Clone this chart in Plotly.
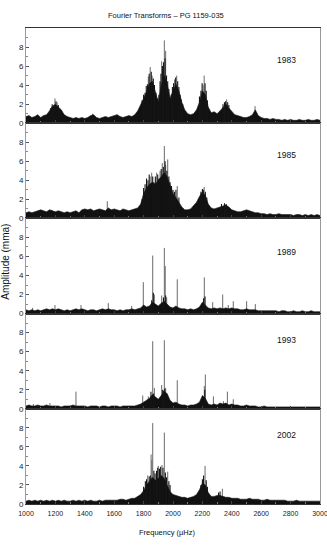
import plotly.graph_objects as go
from plotly.subplots import make_subplots

# frequency grid of the envelope values (microhertz)
FREQ = list(range(1000, 3001, 20))

YEARS = ["1983", "1985", "1989", "1993", "2002"]

# envelope of the dense part of each transform, one value per 20 uHz
ENV_1983 = [0.7, 0.8, 0.6, 0.7, 0.9, 0.6, 0.8, 0.9, 1.3, 1.8,
            2.0, 1.7, 1.4, 0.9, 0.7, 0.6, 0.5, 0.6, 0.5, 0.6,
            0.5, 0.6, 0.8, 0.9, 0.6, 0.5, 0.6, 0.7, 0.6, 0.7,
            0.8, 0.9, 0.7, 0.6, 0.7, 0.8, 0.7, 0.9, 1.3, 1.9,
            2.6, 3.3, 4.2, 4.4, 3.2, 2.2, 4.0, 5.0, 4.2, 2.6,
            3.4, 4.1, 3.4, 2.2, 1.4, 1.0, 0.9, 1.0, 1.4, 2.2,
            3.4, 3.0, 1.7, 1.1, 1.2, 1.0, 1.3, 1.7, 2.0, 1.6,
            1.3, 0.9, 0.8, 0.7, 0.6, 0.6, 0.7, 0.9, 1.4, 0.8,
            0.6, 0.5, 0.5, 0.4, 0.5, 0.4, 0.4, 0.3, 0.4, 0.3,
            0.4, 0.3, 0.3, 0.4, 0.3, 0.3, 0.4, 0.3, 0.3, 0.4,
            0.3]
ENV_1985 = [0.6, 0.7, 0.6, 0.7, 0.8, 0.9, 0.8, 0.7, 0.9, 0.8,
            0.7, 0.8, 0.7, 0.6, 0.7, 0.6, 0.7, 0.8, 0.6, 0.9,
            1.0, 0.9, 1.0, 0.8, 0.9, 1.0, 0.9, 0.8, 1.1, 0.9,
            1.0, 0.9, 0.8, 1.0, 0.9, 0.8, 0.9, 1.0, 1.1, 1.5,
            2.6, 3.2, 3.6, 3.8, 3.6, 4.0, 4.4, 4.8, 4.4, 3.4,
            2.6, 2.2, 1.7, 1.2, 0.9, 0.9, 1.0, 1.3, 1.7, 2.3,
            2.8, 2.4, 1.5, 1.1, 1.0, 1.1, 1.2, 1.3, 1.4, 1.2,
            0.9, 0.8, 0.7, 0.7, 0.8, 0.9, 0.8, 0.7, 0.6, 0.6,
            0.5, 0.5, 0.4, 0.5, 0.4, 0.4, 0.5, 0.4, 0.4, 0.4,
            0.4, 0.3, 0.4, 0.4, 0.3, 0.4, 0.3, 0.4, 0.3, 0.4,
            0.3]
ENV_1989 = [0.4, 0.3, 0.4, 0.3, 0.4, 0.3, 0.4, 0.5, 0.4, 0.5,
            0.4, 0.5, 0.4, 0.3, 0.4, 0.3, 0.4, 0.5, 0.4, 0.5,
            0.4, 0.3, 0.4, 0.4, 0.3, 0.4, 0.5, 0.4, 0.5, 0.4,
            0.4, 0.3, 0.4, 0.3, 0.4, 0.4, 0.5, 0.4, 0.5, 0.6,
            0.9, 0.7, 0.8, 1.2, 1.0, 0.8, 1.1, 1.3, 1.0, 0.7,
            0.6, 0.8, 0.6, 0.5, 0.5, 0.4, 0.5, 0.4, 0.5, 0.7,
            1.2, 0.9, 0.6, 0.5, 0.6, 0.5, 0.6, 0.5, 0.6, 0.5,
            0.6, 0.5, 0.5, 0.4, 0.4, 0.5, 0.4, 0.4, 0.4, 0.3,
            0.3, 0.3, 0.3, 0.3, 0.3, 0.3, 0.2, 0.3, 0.3, 0.2,
            0.2, 0.3, 0.2, 0.2, 0.3, 0.2, 0.2, 0.3, 0.2, 0.2,
            0.2]
ENV_1993 = [0.3, 0.4, 0.3, 0.3, 0.4, 0.3, 0.3, 0.4, 0.3, 0.3,
            0.3, 0.3, 0.2, 0.3, 0.3, 0.3, 0.4, 0.3, 0.3, 0.3,
            0.3, 0.2, 0.3, 0.3, 0.3, 0.2, 0.3, 0.3, 0.2, 0.3,
            0.3, 0.3, 0.2, 0.3, 0.3, 0.3, 0.3, 0.3, 0.4, 0.5,
            0.7, 0.9, 1.1, 1.5, 1.2, 1.0, 1.4, 1.8, 1.6, 0.9,
            0.6, 0.7, 0.5, 0.4, 0.4, 0.3, 0.4, 0.4, 0.5, 0.7,
            1.4, 1.1, 0.5, 0.4, 0.5, 0.4, 0.6, 0.5, 0.6, 0.4,
            0.5, 0.4, 0.4, 0.3, 0.3, 0.4, 0.3, 0.3, 0.3, 0.2,
            0.2, 0.3, 0.2, 0.2, 0.2, 0.2, 0.2, 0.2, 0.2, 0.2,
            0.2, 0.2, 0.2, 0.2, 0.2, 0.2, 0.2, 0.2, 0.2, 0.2,
            0.2]
ENV_2002 = [0.3, 0.4, 0.3, 0.4, 0.3, 0.4, 0.3, 0.4, 0.3, 0.4,
            0.3, 0.4, 0.3, 0.4, 0.3, 0.3, 0.4, 0.3, 0.4, 0.3,
            0.4, 0.3, 0.4, 0.3, 0.3, 0.4, 0.3, 0.4, 0.4, 0.4,
            0.4, 0.4, 0.5, 0.5, 0.4, 0.5, 0.6, 0.6, 0.8, 1.0,
            1.4, 2.0, 2.4, 2.8, 2.5, 2.7, 3.0, 2.7, 2.0, 1.3,
            1.0, 0.9, 0.8, 0.7, 0.7, 0.6, 0.7, 0.8, 1.0, 1.5,
            2.2, 2.0, 1.2, 0.8, 0.8, 0.9, 0.9, 0.8, 0.7, 0.7,
            0.6, 0.6, 0.6, 0.5, 0.5, 0.5, 0.6, 0.5, 0.5, 0.5,
            0.4, 0.4, 0.5, 0.4, 0.4, 0.4, 0.4, 0.4, 0.4, 0.3,
            0.3, 0.3, 0.4, 0.3, 0.3, 0.3, 0.3, 0.3, 0.3, 0.3,
            0.3]

# the many dark spikes that make up the body of each group of modes
DENSE_F_1983 = [1168, 1178, 1188, 1204, 1220, 1230, 1240,
                1790, 1800, 1810, 1818, 1826, 1838, 1852, 1866, 1874, 1884,
                1894, 1904, 1912, 1918, 1928, 1936, 1946, 1956, 1964, 1972,
                1988, 1996, 2004, 2018, 2032, 2040, 2048, 2056, 2066,
                2180, 2190, 2198, 2218, 2226, 2234,
                2340, 2350, 2358, 2372, 2380]
DENSE_A_1983 = [1.6, 2.0, 1.8, 2.3, 1.9, 1.5, 1.3,
                2.4, 3.0, 3.2, 3.9, 4.1, 5.2, 5.4, 4.7, 4.0, 3.2,
                2.6, 3.0, 4.4, 5.2, 6.0, 6.4, 6.8, 5.0, 4.4, 3.6,
                3.0, 3.8, 4.2, 4.8, 4.4, 3.8, 3.0, 2.5, 2.0,
                2.8, 3.4, 4.2, 4.2, 3.4, 2.4,
                2.0, 2.2, 2.3, 2.2, 1.9]
DENSE_F_1985 = [1790, 1800, 1810, 1820, 1830, 1838, 1862, 1870, 1880, 1896,
                1904, 1920, 1934, 1946, 1958, 1972, 1980, 1990, 2000, 2010,
                2020, 2040, 2190, 2200, 2206, 2220, 2230, 2330, 2350, 2362]
DENSE_A_1985 = [2.0, 3.2, 3.6, 4.2, 4.0, 4.6, 4.4, 3.8, 4.4, 4.6,
                4.2, 5.2, 5.4, 6.0, 5.0, 4.4, 3.8, 3.4, 3.0, 2.8,
                3.0, 2.2, 2.8, 3.1, 3.0, 2.8, 2.2, 1.5, 1.6, 1.5]
DENSE_F_1989 = [1855, 1866, 1935, 1950, 2208, 2218]
DENSE_A_1989 = [1.4, 2.2, 1.7, 1.9, 1.6, 1.8]
DENSE_F_1993 = [1850, 1868, 1930, 1936, 1944, 2216]
DENSE_A_1993 = [1.8, 1.6, 2.0, 1.9, 2.1, 2.0]
DENSE_F_2002 = [1800, 1812, 1820, 1838, 1846, 1870, 1878, 1888, 1896, 1908,
                1916, 1932, 1948, 1956, 1972, 1980, 2190, 2200, 2208, 2226,
                2234, 2310, 2320]
DENSE_A_2002 = [1.8, 2.4, 2.6, 2.9, 3.0, 3.5, 3.2, 3.5, 3.8, 3.7,
                3.9, 3.8, 3.3, 2.8, 2.4, 2.0, 2.0, 2.6, 3.0, 2.5,
                1.8, 1.2, 1.3]

# narrow peaks standing above the envelope
PEAK_F_1983 = [1197, 1212, 1453, 1617, 1832, 1845, 1858, 1923, 1932, 1941,
               1950, 2010, 2025, 2205, 2212, 2365, 2558]
PEAK_A_1983 = [2.6, 2.2, 1.0, 0.9, 4.9, 5.9, 5.0, 6.5, 5.5, 8.7,
               7.6, 4.6, 5.0, 4.0, 5.0, 2.5, 1.8]
PEAK_F_1985 = [1175, 1553, 1845, 1855, 1889, 1912, 1927, 1941, 1950, 1964,
               2029, 2212]
PEAK_A_1985 = [0.9, 1.8, 4.4, 4.8, 4.8, 5.0, 5.8, 7.6, 5.6, 6.2,
               3.4, 3.3]
PEAK_F_1989 = [1045, 1197, 1374, 1560, 1719, 1798, 1862, 1873, 1923, 1941,
               1947, 1957, 2029, 2213, 2270, 2338, 2376, 2410, 2501, 2560]
PEAK_A_1989 = [0.6, 0.9, 0.9, 1.1, 0.8, 3.3, 6.1, 2.0, 1.9, 6.9,
               5.0, 1.7, 3.6, 3.8, 1.2, 2.0, 0.9, 1.3, 1.3, 1.0]
PEAK_F_1993 = [1050, 1163, 1340, 1794, 1832, 1862, 1873, 1923, 1941, 1950,
               2029, 2213, 2220, 2275, 2343, 2370, 2410]
PEAK_A_1993 = [0.5, 0.6, 1.8, 1.4, 1.3, 7.1, 2.2, 2.5, 7.2, 2.2,
               3.0, 2.4, 3.6, 1.3, 0.8, 1.8, 1.0]
PEAK_F_2002 = [1828, 1851, 1856, 1862, 1900, 1925, 1941, 1964, 2218, 2336]
PEAK_A_2002 = [3.0, 5.2, 4.6, 8.5, 4.0, 4.1, 7.5, 3.4, 4.0, 1.6]

# where the year label sits in each panel (uHz, mma)
LABEL_POS = [(2770, 6.6), (2770, 6.7), (2770, 6.5), (2770, 7.2), (2770, 7.2)]

envelopes = [ENV_1983, ENV_1985, ENV_1989, ENV_1993, ENV_2002]
dense = [(DENSE_F_1983, DENSE_A_1983), (DENSE_F_1985, DENSE_A_1985),
         (DENSE_F_1989, DENSE_A_1989), (DENSE_F_1993, DENSE_A_1993),
         (DENSE_F_2002, DENSE_A_2002)]
peaks = [(PEAK_F_1983, PEAK_A_1983), (PEAK_F_1985, PEAK_A_1985),
         (PEAK_F_1989, PEAK_A_1989), (PEAK_F_1993, PEAK_A_1993),
         (PEAK_F_2002, PEAK_A_2002)]

FONT = "Liberation Sans, Arial, sans-serif"


def stems(freqs, amps):
    """vertical lines from zero up to each amplitude"""
    sx, sy = [], []
    for f, a in zip(freqs, amps):
        sx += [f, f, None]
        sy += [0, a, None]
    return sx, sy


fig = make_subplots(rows=5, cols=1, shared_xaxes=True, vertical_spacing=0)

for i in range(5):
    row = i + 1
    # gray peaks go underneath so only their tips show above the black body
    px, py = stems(*peaks[i])
    fig.add_trace(go.Scatter(x=px, y=py, mode="lines",
                             line=dict(color="#6a6a6a", width=1),
                             hoverinfo="skip"),
                  row=row, col=1)
    fig.add_trace(go.Scatter(x=FREQ, y=envelopes[i], mode="lines", fill="tozeroy",
                             line=dict(color="#1a1a1a", width=0.6),
                             fillcolor="#111111", hoverinfo="skip"),
                  row=row, col=1)
    dx, dy = stems(*dense[i])
    fig.add_trace(go.Scatter(x=dx, y=dy, mode="lines",
                             line=dict(color="#151515", width=1.1),
                             hoverinfo="skip"),
                  row=row, col=1)
    lx, ly = LABEL_POS[i]
    fig.add_annotation(x=lx, y=ly, text=YEARS[i], showarrow=False,
                       font=dict(size=8.5, color="#111111", family=FONT),
                       row=row, col=1)

fig.update_xaxes(range=[1000, 3000], dtick=200, ticks="inside", ticklen=3,
                 tickcolor="#444444", showline=True, linecolor="#333333",
                 linewidth=1, mirror=True, showgrid=False, zeroline=False,
                 automargin=False, ticklabeloverflow="allow",
                 ticklabelstandoff=3,
                 minor=dict(dtick=100, ticks="inside", ticklen=2, tickcolor="#777777"),
                 tickfont=dict(size=7, color="#222222", family=FONT))
fig.update_yaxes(range=[0, 10], tickvals=[0, 2, 4, 6, 8], ticks="inside",
                 ticklen=3, tickcolor="#555555", showline=True,
                 linecolor="#999999", linewidth=1, mirror=True,
                 showgrid=False, zeroline=False, automargin=False,
                 minor=dict(dtick=1, ticks="inside", ticklen=2, tickcolor="#888888"),
                 tickfont=dict(size=8, color="#222222", family=FONT))

fig.add_annotation(text="Fourier Transforms \u2013 PG 1159-035", xref="paper",
                   yref="paper", x=0.475, y=1.0, yshift=13, yanchor="middle",
                   showarrow=False,
                   font=dict(size=7.5, color="#111111", family=FONT))
fig.add_annotation(text="Frequency (\u00b5Hz)", xref="paper", yref="paper",
                   x=0.48, y=0, yshift=-28, yanchor="middle", showarrow=False,
                   font=dict(size=7.5, color="#111111", family=FONT))
fig.add_annotation(text="Amplitude (mma)", xref="paper", yref="paper",
                   x=0, xshift=-20, xanchor="center", y=0.509, yanchor="middle",
                   textangle=-90, showarrow=False,
                   font=dict(size=10, color="#111111", family=FONT))

fig.update_layout(width=327, height=545, showlegend=False,
                  paper_bgcolor="white", plot_bgcolor="white",
                  margin=dict(l=26, r=7, t=28, b=40.5))

# the page's default 8px body margin would shift the whole figure
fig.write_html("out.html", config={"displayModeBar": False},
               post_script="document.body.style.margin = '0';")
